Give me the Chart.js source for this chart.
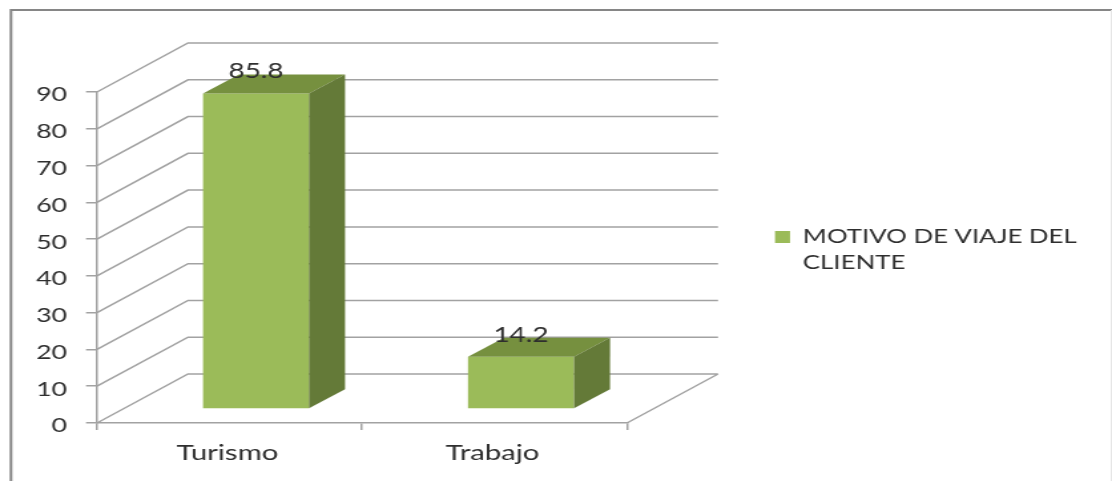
<!DOCTYPE html>
<html lang="es">
<head>
<meta charset="utf-8">
<title>Motivo de viaje del cliente</title>
<style>
  html, body { margin: 0; padding: 0; background: #fff; }
</style>
<script src="https://cdn.jsdelivr.net/npm/chart.js@4"></script>
</head>
<body>
<canvas id="chart" width="836" height="481" style="display:block;width:1112px;height:481px"></canvas>
<script>
const categories = ['Turismo', 'Trabajo'];
const seriesName = ['MOTIVO DE VIAJE DEL', 'CLIENTE'];
const seriesValues = [85.8, 14.2];
const valueMin = 0;
const valueMax = 90;
const valueStep = 10;

// The canvas is widened by CSS, so horizontal distances are divided by this.
const WIDEN = 1112 / 836;
const px = v => v / WIDEN;

const FONT = 'Lato, "Open Sans", sans-serif';
const TEXT = '#2e2e2e';
const GRID = '#a2a2a2';
const FRAME = '#868686';
const FACE = '#9bbb59';
const FACE_TOP = '#76903f';
const FACE_SIDE = '#647a38';

// Oblique projection of the wall depth and of the bars inside it.
const WALL_DX = px(91), WALL_DY = 49;
const BAR_OFFSET_DX = px(26.5), BAR_OFFSET_DY = 14;
const BAR_DEPTH_DX = px(36), BAR_DEPTH_DY = 19;

// Horizontal room kept for the legend column right of the plot.
const LEGEND_WIDTH = 345;
const PLOT_RIGHT = px(627);

const legendOffset = { id: 'legendOffset', afterLayout(chart) { chart.legend.top += 24; } };

const walls = {
  id: 'walls',
  beforeDraw(chart) {
    const { ctx, width, height } = chart;
    ctx.save();
    ctx.fillStyle = '#fff';
    ctx.fillRect(0, 0, width, height);
    ctx.strokeStyle = FRAME;
    ctx.lineWidth = 2;
    ctx.beginPath();
    ctx.moveTo(px(11), height);
    ctx.lineTo(px(11), 10);
    ctx.lineTo(width, 10);
    ctx.stroke();
    ctx.strokeStyle = '#e6e6e6';
    ctx.lineWidth = 1;
    ctx.beginPath();
    ctx.moveTo(width - 0.5, 10);
    ctx.lineTo(width - 0.5, height);
    ctx.stroke();
    ctx.restore();
  },
  beforeDatasetsDraw(chart) {
    const { ctx, chartArea, scales } = chart;
    const { left, right } = chartArea;
    ctx.save();
    ctx.strokeStyle = GRID;
    ctx.lineWidth = 1.5;
    ctx.beginPath();
    scales.y.ticks.forEach(t => {
      const y = scales.y.getPixelForValue(t.value);
      ctx.moveTo(left, y);
      ctx.lineTo(left + WALL_DX, y - WALL_DY);
      ctx.lineTo(right + WALL_DX, y - WALL_DY);
    });
    const floor = scales.y.getPixelForValue(valueMin);
    ctx.moveTo(right, floor);
    ctx.lineTo(right + WALL_DX, floor - WALL_DY);
    ctx.stroke();
    ctx.restore();
  }
};

const prisms = {
  id: 'prisms',
  beforeDatasetDraw(chart) {
    chart.ctx.save();
    chart.ctx.translate(BAR_OFFSET_DX, -BAR_OFFSET_DY);
  },
  afterDatasetDraw(chart, args) {
    const { ctx } = chart;
    ctx.restore();
    args.meta.data.forEach(bar => {
      const l = bar.x - bar.width / 2 + BAR_OFFSET_DX;
      const r = bar.x + bar.width / 2 + BAR_OFFSET_DX;
      const t = bar.y - BAR_OFFSET_DY;
      const b = bar.base - BAR_OFFSET_DY;
      ctx.fillStyle = FACE_TOP;
      ctx.beginPath();
      ctx.moveTo(l, t);
      ctx.lineTo(l + BAR_DEPTH_DX, t - BAR_DEPTH_DY);
      ctx.lineTo(r + BAR_DEPTH_DX, t - BAR_DEPTH_DY);
      ctx.lineTo(r, t);
      ctx.closePath();
      ctx.fill();
      ctx.fillStyle = FACE_SIDE;
      ctx.beginPath();
      ctx.moveTo(r, t);
      ctx.lineTo(r + BAR_DEPTH_DX, t - BAR_DEPTH_DY);
      ctx.lineTo(r + BAR_DEPTH_DX, b - BAR_DEPTH_DY);
      ctx.lineTo(r, b);
      ctx.closePath();
      ctx.fill();
    });
  },
  afterDatasetsDraw(chart) {
    const { ctx } = chart;
    ctx.save();
    ctx.font = '21px ' + FONT;
    ctx.fillStyle = TEXT;
    ctx.textAlign = 'center';
    ctx.textBaseline = 'alphabetic';
    chart.getDatasetMeta(0).data.forEach((bar, i) => {
      ctx.fillText(String(seriesValues[i]), bar.x + BAR_OFFSET_DX, bar.y - BAR_OFFSET_DY - 15);
    });
    ctx.restore();
  }
};

new Chart(document.getElementById('chart'), {
  type: 'bar',
  data: {
    labels: categories,
    datasets: [{
      label: seriesName,
      data: seriesValues,
      backgroundColor: FACE,
      borderWidth: 0,
      categoryPercentage: 1,
      barPercentage: 0.4
    }]
  },
  options: {
    responsive: false,
    animation: false,
    devicePixelRatio: 1,
    layout: { padding: { left: 0, right: 836 - PLOT_RIGHT - LEGEND_WIDTH, top: 92, bottom: 0 } },
    scales: {
      x: {
        afterFit(scale) { scale.height = 58; },
        grid: { drawOnChartArea: false, drawTicks: true, tickLength: 7, color: GRID, lineWidth: 1.5 },
        border: { display: true, color: GRID, width: 1.5 },
        ticks: { color: TEXT, font: { family: FONT, size: 22 }, padding: 10, maxRotation: 0, labelOffset: -1.5 }
      },
      y: {
        min: valueMin,
        max: valueMax,
        afterFit(scale) { scale.width = px(97); },
        grid: { drawOnChartArea: false, drawTicks: true, tickLength: px(11), color: GRID, lineWidth: 1.5 },
        border: { display: true, color: GRID, width: 1.5 },
        ticks: { stepSize: valueStep, color: TEXT, font: { family: FONT, size: 20 }, padding: px(19), labelOffset: 3 }
      }
    },
    plugins: {
      title: { display: false },
      tooltip: { enabled: false },
      legend: {
        position: 'right',
        align: 'start',
        maxWidth: LEGEND_WIDTH,
        labels: {
          color: TEXT,
          font: { family: FONT, size: 19.4, lineHeight: 1.34 },
          boxWidth: px(15),
          boxHeight: 12,
          padding: px(775) - PLOT_RIGHT,
          generateLabels() {
            return [{ text: seriesName, fillStyle: FACE, strokeStyle: FACE, lineWidth: 0, fontColor: TEXT, datasetIndex: 0 }];
          }
        }
      }
    }
  },
  plugins: [walls, prisms, legendOffset]
});
</script>
</body>
</html>
